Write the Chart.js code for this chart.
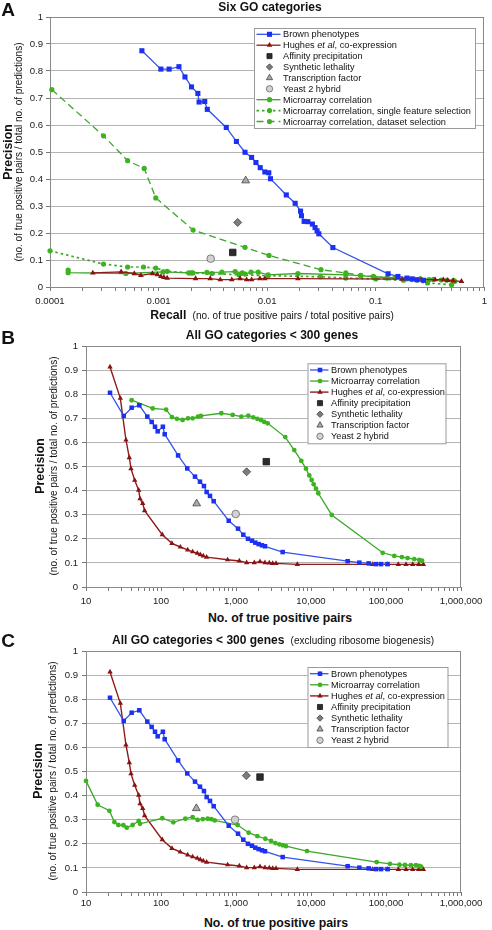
<!DOCTYPE html>
<html>
<head>
<meta charset="utf-8">
<script src="https://cdn.jsdelivr.net/npm/chart.js@4.4.1/dist/chart.umd.min.js"></script>
<style>
  body { margin: 0; background: #fff; }
  #fig { position: relative; width: 492px; height: 930px; overflow: hidden;
         font-family: "Liberation Sans", Arial, sans-serif; color: #111; }
  #fig canvas { position: absolute; left: 0; }
  .t { position: absolute; white-space: nowrap; line-height: 1; transform: translate(-50%, -50%); }
  .v { transform: translate(-50%, -50%) rotate(-90deg); }
  .b { font-weight: bold; }
  .n { font-weight: normal; font-size: 10px; }
  .letter { font-weight: bold; font-size: 19px; }
</style>
</head>
<body>
<div id="fig">
  <canvas id="chartA" width="492" height="310" style="top:0"></canvas>
  <canvas id="chartB" width="492" height="290" style="top:320px"></canvas>
  <canvas id="chartC" width="492" height="290" style="top:625px"></canvas>

  <!-- panel A -->
  <div class="t letter" style="left:8px;top:9px">A</div>
  <div class="t b" style="left:270px;top:7px;font-size:12px">Six GO categories</div>
  <div class="t v b" style="left:8px;top:152px;font-size:12.3px">Precision</div>
  <div class="t v" style="left:19px;top:152px;font-size:10px">(no. of true positive pairs / total no. of predictions)</div>
  <div class="t b" style="left:272px;top:315px;font-size:12.3px">Recall <span class="n">&nbsp;(no. of true positive pairs / total positive pairs)</span></div>

  <!-- panel B -->
  <div class="t letter" style="left:8px;top:337px">B</div>
  <div class="t b" style="left:272px;top:335px;font-size:12px">All GO categories &lt; 300 genes</div>
  <div class="t v b" style="left:40px;top:466px;font-size:12.3px">Precision</div>
  <div class="t v" style="left:54px;top:466px;font-size:10px">(no. of true positive pairs / total no. of predictions)</div>
  <div class="t b" style="left:280px;top:618px;font-size:12.3px">No. of true positive pairs</div>

  <!-- panel C -->
  <div class="t letter" style="left:8px;top:640px">C</div>
  <div class="t b" style="left:273px;top:640px;font-size:12px">All GO categories &lt; 300 genes <span class="n">&nbsp;(excluding ribosome biogenesis)</span></div>
  <div class="t v b" style="left:38px;top:771px;font-size:12.3px">Precision</div>
  <div class="t v" style="left:53px;top:771px;font-size:10px">(no. of true positive pairs / total no. of predictions)</div>
  <div class="t b" style="left:276px;top:923px;font-size:12.3px">No. of true positive pairs</div>
</div>

<script>
// ---------------------------------------------------------------------
// --- Datos ---
// ---------------------------------------------------------------------

const FONT = '"Liberation Sans", Arial, sans-serif';

const yTickLabels = ['0', '0.1', '0.2', '0.3', '0.4', '0.5', '0.6', '0.7', '0.8', '0.9', '1'];
const xTickLabelsA = ['0.0001', '0.001', '0.01', '0.1', '1'];
const xTickLabelsBC = ['10', '100', '1,000', '10,000', '100,000', '1,000,000'];

// Panel A (recall vs precision)
const brownA_x = [0.000702, 0.00105, 0.00125, 0.00154, 0.00175, 0.00201, 0.0023, 0.00236, 0.00266, 0.00281,
  0.0042, 0.00521, 0.00625, 0.00719, 0.00788, 0.00863, 0.00952, 0.01035, 0.01072, 0.015,
  0.0181, 0.0203, 0.0207, 0.0219, 0.0237, 0.0261, 0.0276, 0.0288, 0.0299, 0.0403,
  0.13, 0.16, 0.194, 0.217, 0.239, 0.275];
const brownA_y = [0.875, 0.807, 0.807, 0.816, 0.778, 0.741, 0.717, 0.685, 0.687, 0.658,
  0.591, 0.539, 0.499, 0.48, 0.461, 0.442, 0.426, 0.423, 0.401, 0.341,
  0.31, 0.281, 0.264, 0.243, 0.242, 0.233, 0.22, 0.208, 0.197, 0.146,
  0.049, 0.039, 0.033, 0.030, 0.027, 0.025];

const hughesA_x = [0.000248, 0.000452, 0.000597, 0.000687, 0.000878, 0.000975, 0.00105, 0.00112, 0.0012, 0.00219,
  0.00299, 0.0037, 0.00472, 0.00563, 0.00647, 0.00719, 0.00857, 0.00952, 0.0192, 0.175,
  0.26, 0.352, 0.419, 0.46, 0.517, 0.616];
const hughesA_y = [0.052, 0.056, 0.050, 0.043, 0.050, 0.046, 0.039, 0.036, 0.033, 0.031,
  0.031, 0.027, 0.027, 0.031, 0.027, 0.027, 0.031, 0.031, 0.031, 0.029,
  0.027, 0.027, 0.027, 0.025, 0.023, 0.021];

const microA_x = [0.000147, 0.000147, 0.0005, 0.0011, 0.0019, 0.00207, 0.00279, 0.00383, 0.00507, 0.0059,
  0.00625, 0.0071, 0.00828, 0.0102, 0.0192, 0.053, 0.0727, 0.096, 0.15, 0.2,
  0.257, 0.31, 0.4, 0.52];
const microA_y = [0.063, 0.053, 0.050, 0.056, 0.052, 0.052, 0.054, 0.055, 0.057, 0.052,
  0.048, 0.055, 0.055, 0.045, 0.050, 0.045, 0.042, 0.038, 0.034, 0.031,
  0.029, 0.027, 0.026, 0.025];

const singleA_x = [0.0001, 0.000311, 0.000519, 0.000726, 0.000942, 0.0012, 0.002, 0.0031, 0.0055, 0.0102,
  0.031, 0.053, 0.1, 0.18, 0.3, 0.5];
const singleA_y = [0.134, 0.085, 0.074, 0.074, 0.070, 0.058, 0.052, 0.05, 0.045, 0.042,
  0.038, 0.033, 0.03, 0.025, 0.015, 0.008];

const datasetA_x = [0.000104, 0.000311, 0.000519, 0.000737, 0.000942, 0.00208, 0.00625, 0.0104, 0.0313, 0.053,
  0.0727, 0.0949, 0.127, 0.257, 0.34, 0.45, 0.535];
const datasetA_y = [0.731, 0.560, 0.468, 0.439, 0.330, 0.211, 0.147, 0.117, 0.064, 0.052,
  0.043, 0.039, 0.033, 0.030, 0.028, 0.025, 0.021];

// puntos sueltos: [afinidad, letalidad sintética, factor de transcripción, doble híbrido]
const singlesA_x = [0.00482, 0.00535, 0.00634, 0.00302];
const singlesA_y = [0.128, 0.239, 0.394, 0.105];

// Paneles B y C (nº de pares positivos vs precisión)
const brown_x = [20.9, 31.8, 40.6, 51.4, 65.7, 75.1, 83.2, 90.3, 106, 112,
  169, 224, 284, 331, 374, 406, 450, 504, 800, 1064,
  1251, 1445, 1633, 1808, 2004, 2221, 2436, 4190, 30800, 44100,
  58700, 73600, 85800, 105000];
const brown_y = [0.806, 0.710, 0.744, 0.754, 0.707, 0.685, 0.665, 0.646, 0.665, 0.634,
  0.546, 0.492, 0.458, 0.437, 0.419, 0.394, 0.378, 0.356, 0.275, 0.242,
  0.217, 0.200, 0.192, 0.184, 0.178, 0.173, 0.169, 0.145, 0.107, 0.101,
  0.098, 0.095, 0.095, 0.095];

const hughes_x = [20.9, 28.7, 34.1, 37.8, 39.8, 44.6, 50.4, 52.5, 57, 60.5,
  104, 140, 181, 227, 264, 305, 334, 366, 406, 774,
  1107, 1387, 1754, 2089, 2436, 2780, 3083, 3414, 6570, 66400,
  105000, 146000, 185000, 227000, 273000, 315000];
const hughes_y = [0.913, 0.783, 0.61, 0.537, 0.491, 0.443, 0.402, 0.366, 0.347, 0.317,
  0.217, 0.181, 0.166, 0.154, 0.146, 0.140, 0.134, 0.129, 0.124, 0.113,
  0.108, 0.101, 0.101, 0.105, 0.101, 0.100, 0.098, 0.098, 0.094, 0.094,
  0.094, 0.094, 0.094, 0.094, 0.094, 0.094];

const microB_x = [40.6, 77.5, 117, 140, 163, 194, 229, 264, 311, 341,
  637, 903, 1178, 1459, 1701, 1923, 2155, 2384, 2646, 4540,
  5980, 7430, 8570, 9480, 10200, 10860, 11660, 12510, 18900, 90300,
  129000, 163000, 194000, 238000, 278000, 302000];
const microB_y = [0.775, 0.741, 0.736, 0.705, 0.698, 0.693, 0.700, 0.700, 0.707, 0.710,
  0.721, 0.714, 0.707, 0.711, 0.704, 0.698, 0.693, 0.685, 0.679, 0.622,
  0.568, 0.523, 0.491, 0.463, 0.444, 0.426, 0.408, 0.389, 0.299, 0.142,
  0.129, 0.124, 0.120, 0.116, 0.112, 0.109];

const microC_x = [10, 14.3, 20.5, 23.9, 27, 31.5, 34.9, 41.9, 50.4, 52.5,
  104, 146, 211, 264, 308, 360, 419, 469, 520, 1052,
  1475, 1923, 2458, 2930, 3342, 3784, 4190, 4640, 8850, 75100,
  113000, 151000, 179000, 215000, 251000, 278000, 293000];
const microC_y = [0.461, 0.362, 0.337, 0.290, 0.278, 0.277, 0.267, 0.278, 0.295, 0.283,
  0.306, 0.289, 0.304, 0.311, 0.299, 0.302, 0.304, 0.302, 0.297, 0.278,
  0.246, 0.232, 0.221, 0.212, 0.203, 0.198, 0.194, 0.190, 0.170, 0.124,
  0.117, 0.113, 0.112, 0.111, 0.111, 0.108, 0.105];

const singlesB_x = [2535, 1387, 299, 991];
const singlesB_y = [0.520, 0.478, 0.346, 0.303];
const singlesC_x = [2089, 1373, 296, 970];
const singlesC_y = [0.477, 0.483, 0.347, 0.300];

// ---------------------------------------------------------------------
// --- Estilos ---
// ---------------------------------------------------------------------

const BLUE_LINE = '#3553ea', BLUE_PT = '#1b30f2';
const RED_LINE = '#8e1c1c', RED_PT = '#8a1212';
const GREEN_LINE = '#3ba62b', GREEN_PT = '#3cb41f';

const pts = (xs, ys) => xs.map((x, i) => ({ x, y: ys[i] }));

const series = (label, xs, ys, color, ptColor, style, r, extra) => Object.assign({
  label, data: pts(xs, ys), showLine: true, borderColor: color, borderWidth: 1.3,
  pointStyle: style, pointRadius: r, pointBackgroundColor: ptColor, pointBorderColor: ptColor,
  pointBorderWidth: 0, backgroundColor: ptColor, fill: false, tension: 0, clip: false
}, extra || {});

// puntos aislados (cuatro métodos experimentales)
const singlePoints = (xs, ys) => [
  { label: 'Affinity precipitation', style: 'rect', r: 4.6, fill: '#2c2c2c', edge: '#1a1a1a', lr: 3.6 },
  { label: 'Synthetic lethality', style: 'rectRot', r: 4, fill: '#7c7c7c', edge: '#444', lr: 3.2 },
  { label: 'Transcription factor', style: 'triangle', r: 4.5, fill: '#a9a9a9', edge: '#444', lr: 3.6 },
  { label: 'Yeast 2 hybrid', style: 'circle', r: 3.8, fill: '#d2d2d2', edge: '#666', lr: 3.2 }
].map((p, i) => ({
  label: p.label, data: [{ x: xs[i], y: ys[i] }], showLine: false,
  pointStyle: p.style, pointRadius: p.r, legendRadius: p.lr,
  pointBackgroundColor: p.fill, pointBorderColor: p.edge, pointBorderWidth: 0.8, clip: false
}));

// ---------------------------------------------------------------------
// --- Plugins ---
// ---------------------------------------------------------------------

// Marco gris del área de trazado (Excel)
const plotFrame = {
  id: 'plotFrame',
  beforeDatasetsDraw(chart) {
    const a = chart.chartArea, ctx = chart.ctx;
    ctx.save();
    ctx.strokeStyle = '#8a8a8a';
    ctx.lineWidth = 1;
    ctx.strokeRect(Math.round(a.left) + 0.5, Math.round(a.top) + 0.5,
      Math.round(a.right - a.left) - 1, Math.round(a.bottom - a.top));
    ctx.restore();
  }
};

// Leyenda dentro del área de trazado, con "et al" en cursiva
const boxLegend = {
  id: 'boxLegend',
  afterDatasetsDraw(chart, args, o) {
    const ctx = chart.ctx;
    ctx.save();
    ctx.fillStyle = '#fff';
    ctx.fillRect(o.x, o.y, o.w, o.h);
    ctx.strokeStyle = '#9a9a9a';
    ctx.lineWidth = 1;
    ctx.strokeRect(o.x + 0.5, o.y + 0.5, o.w, o.h);
    ctx.textBaseline = 'middle';
    chart.data.datasets.forEach((ds, i) => {
      const cy = o.y + o.first + i * o.row;
      if (ds.showLine) {
        ctx.save();
        ctx.strokeStyle = ds.borderColor;
        ctx.lineWidth = ds.borderWidth;
        ctx.setLineDash(ds.borderDash || []);
        ctx.beginPath();
        ctx.moveTo(o.x + o.line0, cy);
        ctx.lineTo(o.x + o.line1, cy);
        ctx.stroke();
        ctx.restore();
      }
      ctx.fillStyle = ds.pointBackgroundColor;
      ctx.strokeStyle = ds.pointBorderColor;
      ctx.lineWidth = ds.pointBorderWidth;
      Chart.helpers.drawPoint(ctx, {
        pointStyle: ds.pointStyle, radius: ds.legendRadius || ds.pointRadius,
        borderWidth: ds.pointBorderWidth, rotation: 0
      }, o.x + o.mark, cy);
      let tx = o.x + o.text;
      ds.label.split(/(et al)/).forEach(part => {
        if (!part) return;
        ctx.font = (part === 'et al' ? 'italic ' : '') + o.size + 'px ' + FONT;
        ctx.fillStyle = '#111';
        ctx.fillText(part, tx, cy + 0.5);
        tx += ctx.measureText(part).width;
      });
    });
    ctx.restore();
  }
};

// ---------------------------------------------------------------------
// --- Construcción de los gráficos ---
// ---------------------------------------------------------------------

// marcas 1..9 por década; las décadas llevan etiqueta
const decadeTicks = (min, max) => {
  const ticks = [];
  const e0 = Math.round(Math.log10(min)), e1 = Math.round(Math.log10(max));
  for (let e = e0; e < e1; e++) {
    for (let m = 1; m < 10; m++) {
      ticks.push({ value: m * Math.pow(10, e), major: m === 1, dec: e - e0 });
    }
  }
  ticks.push({ value: max, major: true, dec: e1 - e0 });
  return ticks;
};

const buildPanel = (cfg) => new Chart(document.getElementById(cfg.id), {
  type: 'scatter',
  data: { datasets: cfg.datasets },
  options: {
    responsive: false,
    animation: false,
    events: [],
    layout: { padding: { top: cfg.padTop, right: cfg.padRight, left: 0, bottom: 0 } },
    plugins: { legend: { display: false }, tooltip: { enabled: false }, boxLegend: cfg.legend },
    scales: {
      x: {
        type: 'logarithmic',
        min: cfg.xMin,
        max: cfg.xMax,
        afterBuildTicks: s => { s.ticks = decadeTicks(cfg.xMin, cfg.xMax); },
        afterFit: s => { s.height = cfg.xHeight; },
        ticks: {
          autoSkip: false, maxRotation: 0, minRotation: 0, padding: cfg.xPad, color: '#222',
          font: { family: FONT, size: 9.6 },
          callback: (v, i, ticks) => ticks[i].major ? cfg.xLabels[ticks[i].dec] : ''
        },
        grid: { drawOnChartArea: false, drawTicks: true, tickLength: 4, color: '#777' },
        border: { color: '#777' }
      },
      y: {
        min: 0,
        max: 1,
        afterFit: s => { s.width = cfg.yWidth; },
        ticks: {
          stepSize: 0.1, autoSkip: false, padding: cfg.yPad, color: '#222',
          font: { family: FONT, size: 9.6 },
          callback: v => yTickLabels[Math.round(v * 10)]
        },
        grid: { color: '#b3b3b3', tickColor: '#777', tickLength: 4 },
        border: { color: '#777' }
      }
    }
  },
  plugins: [plotFrame, boxLegend]
});

// Panel A
buildPanel({
  id: 'chartA', xMin: 0.0001, xMax: 1, xLabels: xTickLabelsA,
  padTop: 17, padRight: 3, yWidth: 50, xHeight: 23, yPad: 3, xPad: 5,
  legend: { x: 254, y: 28, w: 221, h: 100, first: 6.3, row: 10.9, line0: 2.5, line1: 26.5, mark: 15.5, text: 29, size: 9.2 },
  datasets: [
    series('Brown phenotypes', brownA_x, brownA_y, BLUE_LINE, BLUE_PT, 'rect', 3.6),
    series('Hughes et al, co-expression', hughesA_x, hughesA_y, RED_LINE, RED_PT, 'triangle', 3.3),
    ...singlePoints(singlesA_x, singlesA_y),
    series('Microarray correlation', microA_x, microA_y, GREEN_LINE, GREEN_PT, 'circle', 2.6),
    series('Microarray correlation, single feature selection', singleA_x, singleA_y, GREEN_LINE, GREEN_PT, 'circle', 2.6,
      { borderDash: [2.5, 3], borderWidth: 1.7 }),
    series('Microarray correlation, dataset selection', datasetA_x, datasetA_y, GREEN_LINE, GREEN_PT, 'circle', 2.6,
      { borderDash: [7, 4], borderWidth: 1.3 })
  ]
});

// Panel B
buildPanel({
  id: 'chartB', xMin: 10, xMax: 1000000, xLabels: xTickLabelsBC,
  padTop: 26, padRight: 31, yWidth: 86, xHeight: 23, yPad: 4, xPad: 5,
  legend: { x: 307.5, y: 43.3, w: 138, h: 80, first: 6.7, row: 11.05, line0: 2.5, line1: 21, mark: 12.5, text: 23.5, size: 9.2 },
  datasets: [
    series('Brown phenotypes', brown_x, brown_y, BLUE_LINE, BLUE_PT, 'rect', 3.2),
    series('Microarray correlation', microB_x, microB_y, GREEN_LINE, GREEN_PT, 'circle', 2.4),
    series('Hughes et al, co-expression', hughes_x, hughes_y, RED_LINE, RED_PT, 'triangle', 3.1, { borderWidth: 1.4 }),
    ...singlePoints(singlesB_x, singlesB_y)
  ]
});

// Panel C
buildPanel({
  id: 'chartC', xMin: 10, xMax: 1000000, xLabels: xTickLabelsBC,
  padTop: 26, padRight: 31, yWidth: 86, xHeight: 23, yPad: 4, xPad: 2,
  legend: { x: 307.5, y: 42, w: 140, h: 80, first: 6.7, row: 11.1, line0: 2.5, line1: 21, mark: 12.5, text: 23.5, size: 9.2 },
  datasets: [
    series('Brown phenotypes', brown_x, brown_y, BLUE_LINE, BLUE_PT, 'rect', 3.2),
    series('Microarray correlation', microC_x, microC_y, GREEN_LINE, GREEN_PT, 'circle', 2.4),
    series('Hughes et al, co-expression', hughes_x, hughes_y, RED_LINE, RED_PT, 'triangle', 3.1, { borderWidth: 1.4 }),
    ...singlePoints(singlesC_x, singlesC_y)
  ]
});
</script>
</body>
</html>
